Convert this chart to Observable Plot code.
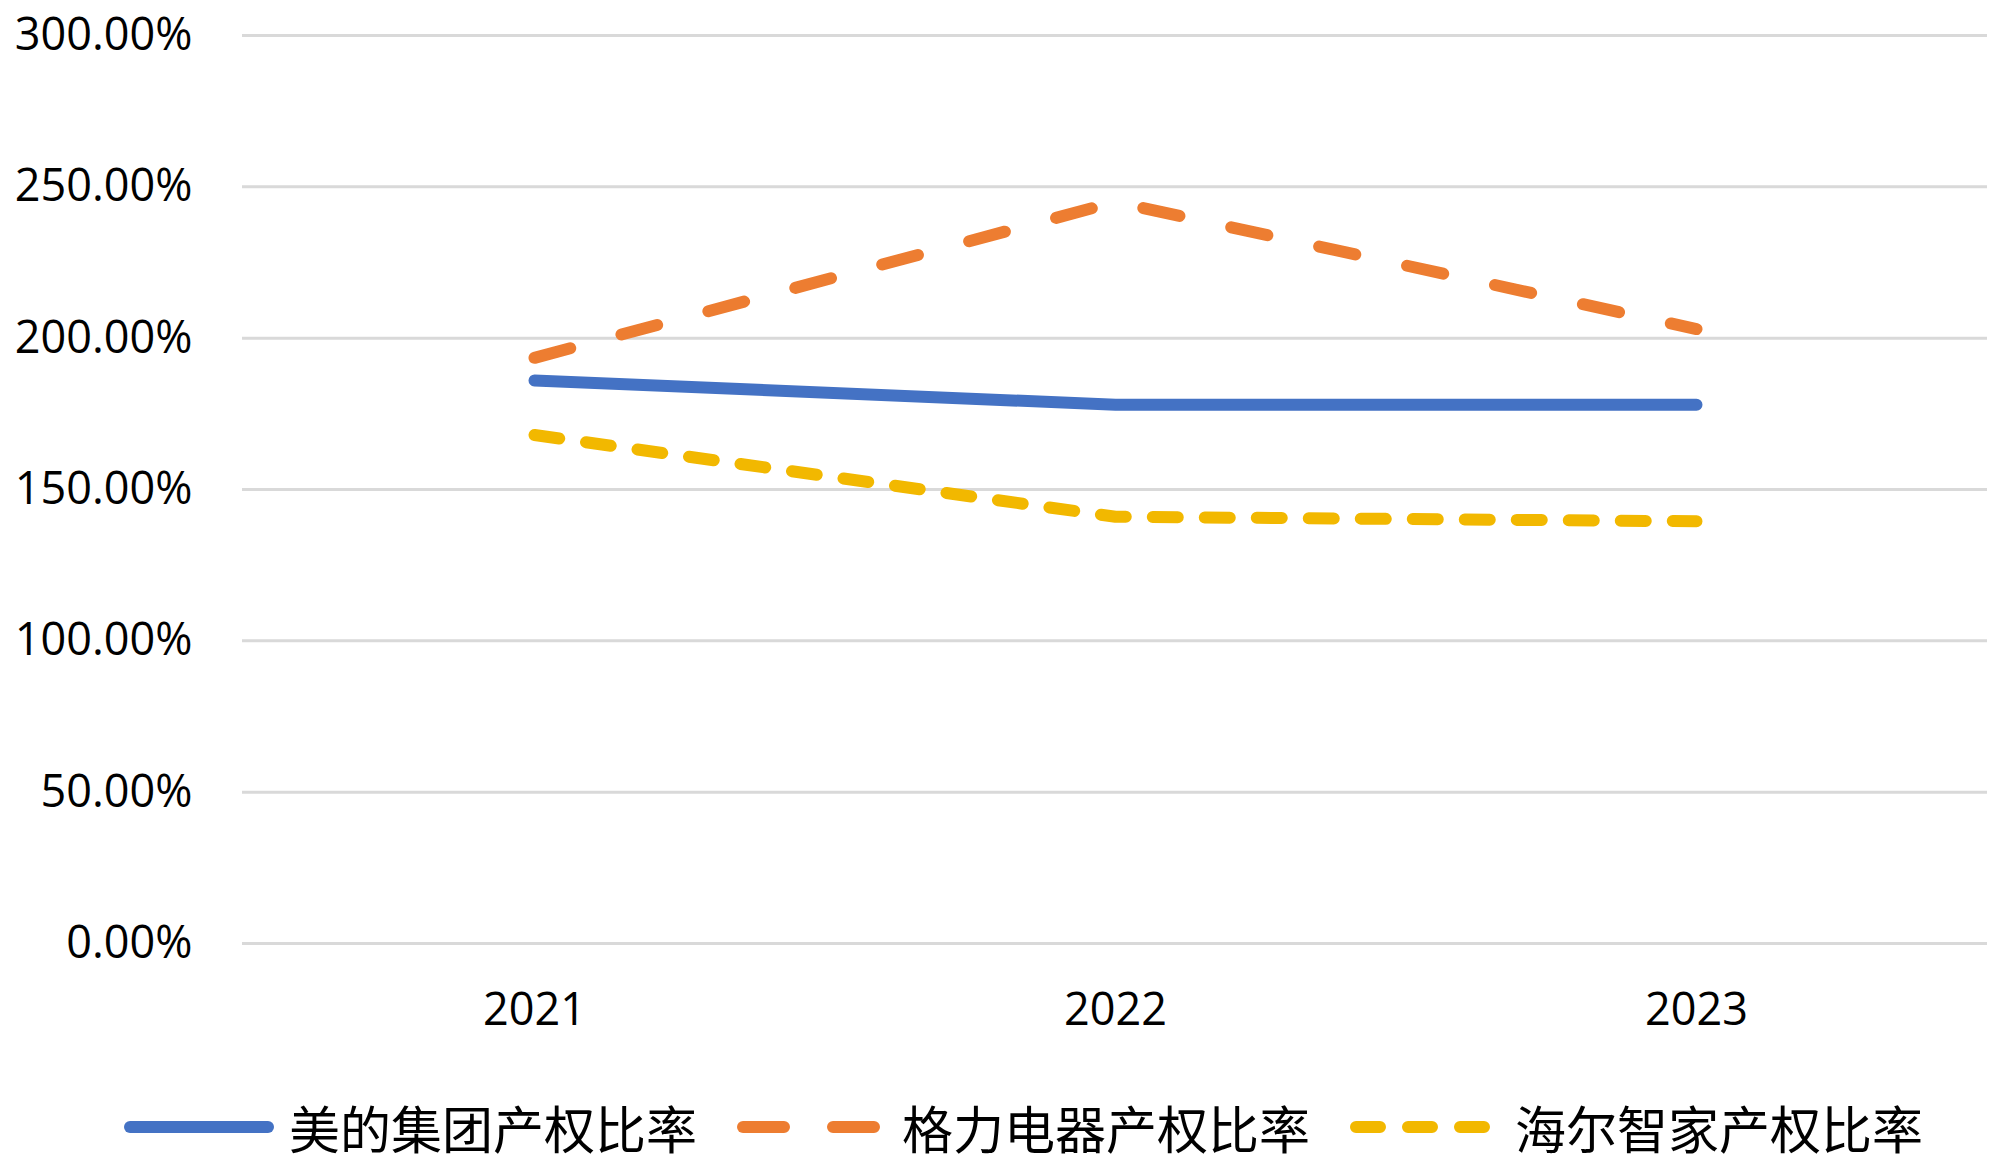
<!DOCTYPE html>
<html>
<head>
<meta charset="utf-8">
<script src="https://cdn.jsdelivr.net/npm/d3@7"></script>
<script src="https://cdn.jsdelivr.net/npm/@observablehq/plot@0.6"></script>
<style>
  html, body { margin: 0; padding: 0; background: #fff; }
  #chart svg { display: block; }
  #legend { height: 113px; display: flex; align-items: center; padding-left: 124px; box-sizing: border-box;
            font-family: "Noto Sans CJK SC", sans-serif; font-size: 51px; color: #000; }
  .item { display: flex; align-items: center; margin-right: 40px; }
  .item svg { margin-right: 15px; }
</style>
</head>
<body>
<div id="chart"></div>
<div id="legend"></div>
<script>
const years = ["2021", "2022", "2023"];
const seriesNames = ["美的集团产权比率", "格力电器产权比率", "海尔智家产权比率"];
const midea = [1.86, 1.78, 1.78];
const gree = [1.935, 2.45, 2.03];
const haier = [1.68, 1.41, 1.395];
const yTicks = [0, 0.5, 1, 1.5, 2, 2.5, 3];
const colors = ["#4472C4", "#ED7D31", "#F2B800"];
const dashes = [null, "37,53", "25,27"];
const seriesValues = [midea, gree, haier];

const data = seriesValues.map((vals, i) => years.map((y, j) => ({series: seriesNames[i], year: y, value: vals[j]})));

const chart = Plot.plot({
  width: 1999,
  height: 1070,
  marginTop: 35,
  marginBottom: 127,
  marginLeft: 242,
  marginRight: 12,
  style: {fontFamily: "Open Sans", fontSize: "45px", color: "#000", background: "#fff"},
  x: {type: "point", domain: years, padding: 0.5, label: null, tickSize: 0, tickPadding: 50},
  y: {domain: [0, 3], ticks: yTicks, tickFormat: d3.format(".2%"), label: null, tickSize: 0, tickPadding: 50},
  marks: [
    Plot.ruleY(yTicks, {stroke: "#d9d9d9", strokeWidth: 3}),
    ...data.map((d, i) => Plot.lineY(d, {
      x: "year", y: "value", stroke: colors[i], strokeWidth: 12,
      strokeLinecap: "round", strokeLinejoin: "round",
      strokeDasharray: dashes[i] ?? undefined
    }))
  ]
});
document.getElementById("chart").appendChild(chart);

const legend = document.getElementById("legend");
seriesNames.forEach((name, i) => {
  const item = document.createElement("div");
  item.className = "item";
  const ns = "http://www.w3.org/2000/svg";
  const svg = document.createElementNS(ns, "svg");
  svg.setAttribute("width", 150);
  svg.setAttribute("height", 20);
  const line = document.createElementNS(ns, "line");
  line.setAttribute("x1", 6); line.setAttribute("x2", 144);
  line.setAttribute("y1", 10); line.setAttribute("y2", 10);
  line.setAttribute("stroke", colors[i]);
  line.setAttribute("stroke-width", 12);
  line.setAttribute("stroke-linecap", "round");
  if (dashes[i]) line.setAttribute("stroke-dasharray", i === 1 ? "41,49" : "24,28");
  svg.appendChild(line);
  const span = document.createElement("span");
  span.textContent = name;
  item.appendChild(svg);
  item.appendChild(span);
  legend.appendChild(item);
});
</script>
</body>
</html>
